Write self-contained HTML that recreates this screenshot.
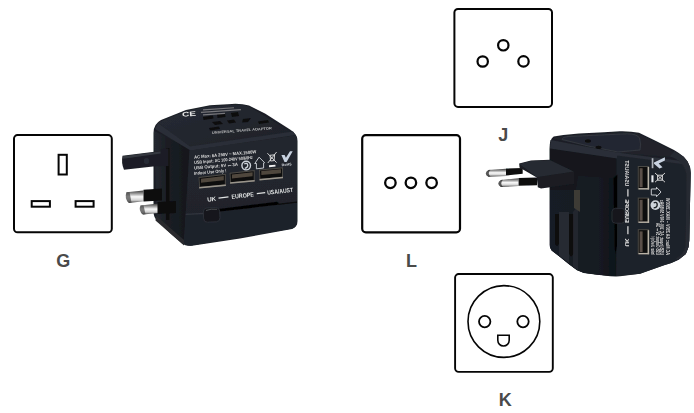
<!DOCTYPE html>
<html><head><meta charset="utf-8">
<style>
html,body{margin:0;padding:0;background:#fff;}
body{width:694px;height:413px;overflow:hidden;font-family:"Liberation Sans",sans-serif;}
svg{display:block}
text{font-family:"Liberation Sans",sans-serif;font-weight:bold;}
</style></head><body>
<svg width="694" height="413" viewBox="0 0 694 413">
<defs>
<linearGradient id="metalH" x1="0" y1="0" x2="0" y2="1">
<stop offset="0" stop-color="#3a3a3a"/><stop offset="0.25" stop-color="#9a9a9a"/><stop offset="0.5" stop-color="#fafafa"/><stop offset="0.78" stop-color="#d0d0d0"/><stop offset="1" stop-color="#3a3a3a"/>
</linearGradient>
<linearGradient id="topL" x1="0" y1="0" x2="1" y2="1"><stop offset="0" stop-color="#272b33"/><stop offset="1" stop-color="#1d2128"/></linearGradient>
<linearGradient id="frontL" x1="0" y1="0" x2="0" y2="1"><stop offset="0" stop-color="#23272f"/><stop offset="1" stop-color="#1e222a"/></linearGradient>
<filter id="soft" x="-5%" y="-5%" width="110%" height="110%"><feGaussianBlur stdDeviation="0.35"/></filter>
<linearGradient id="leftL" x1="0" y1="0" x2="1" y2="0"><stop offset="0" stop-color="#262a31"/><stop offset="0.35" stop-color="#1b1e24"/><stop offset="1" stop-color="#14171c"/></linearGradient>
<linearGradient id="rlf" x1="0" y1="0" x2="1" y2="0"><stop offset="0" stop-color="#181d25"/><stop offset="0.7" stop-color="#161b23"/><stop offset="1" stop-color="#0f1319"/></linearGradient>
</defs>
<rect width="694" height="413" fill="#fff"/>

<!-- SOCKET G -->
<g fill="#fff" stroke="#050505" stroke-width="2">
<rect x="14" y="135.05" width="97.8" height="97.25" rx="3.6"/>
<rect x="58.6" y="154.8" width="8.2" height="19.7" stroke-width="2"/>
<rect x="31.7" y="201.1" width="18.2" height="5.6" stroke-width="2"/>
<rect x="75.6" y="201.1" width="18" height="5.6" stroke-width="2"/>
</g>
<text x="63.2" y="266.9" font-size="18" text-anchor="middle" fill="#4a4a4a">G</text>

<!-- SOCKET J -->
<g fill="#fff" stroke="#050505" stroke-width="2">
<rect x="454.4" y="9" width="97.6" height="97.9" rx="3.6"/>
<circle cx="503.3" cy="45.3" r="5.2" stroke-width="2.2"/>
<circle cx="482.7" cy="61.5" r="5.2" stroke-width="2.2"/>
<circle cx="523.5" cy="61.4" r="5.2" stroke-width="2.2"/>
</g>
<text x="503.2" y="141.3" font-size="18" text-anchor="middle" fill="#4a4a4a">J</text>

<!-- SOCKET L -->
<g fill="#fff" stroke="#050505" stroke-width="2">
<rect x="362.2" y="135.2" width="97.8" height="97.2" rx="3.6" stroke-width="2.2"/>
<circle cx="390.4" cy="182.8" r="5.25" stroke-width="2.3"/>
<circle cx="410.9" cy="182.8" r="5.25" stroke-width="2.3"/>
<circle cx="431.6" cy="182.8" r="5.25" stroke-width="2.3"/>
</g>
<text x="411.4" y="266.9" font-size="18" text-anchor="middle" fill="#4a4a4a">L</text>

<!-- SOCKET K -->
<g fill="#fff" stroke="#050505" stroke-width="2">
<rect x="455.1" y="274" width="97.7" height="97.9" rx="3.6" stroke-width="1.9"/>
<circle cx="503.9" cy="321.5" r="35.9" stroke-width="1.6"/>
<circle cx="484.7" cy="321.6" r="5.7" stroke-width="1.8"/>
<circle cx="523" cy="321.6" r="5.7" stroke-width="1.8"/>
<path d="M497.8 335.3 H509.2 V340.3 A5.7 5.7 0 0 1 497.8 340.3 Z" stroke-width="1.6"/>
</g>
<text x="505.2" y="406" font-size="18" text-anchor="middle" fill="#4a4a4a">K</text>

<!-- LEFT ADAPTER -->
<g id="adL" filter="url(#soft)">
<!-- body silhouette -->
<path d="M153.500 133 Q153.500 124 161 120 L186 110 L210 105.300 L232 103.900 Q242 103.500 249 105.500 L265 113.500 L290 129.500 Q297.500 134 297.500 141 L297.500 221 Q297.500 227 292 229 L240 238.500 L192 245.800 Q185.500 246.300 181.500 243 L170 233 L157 220 Q153.500 217 153.500 212 Z" fill="#1b1f26"/>
<!-- left face -->
<path d="M154 131 L189.500 149 L184 244.500 L157 219 Z" fill="url(#leftL)"/>
<rect x="166" y="148" width="3.500" height="72" fill="#0c0c0d"/>
<path d="M156 215.500 L184 240 L184 245.500 L155.500 220.500Z" fill="#2a2b2e"/>
<!-- earth pin -->
<path d="M122.500 155.800 L160.500 151 L161 148.500 L168.500 148.500 L168.500 166 L153 166.500 L124 169.800 Q121 163 122.500 155.800Z" fill="#1c1f25"/>
<path d="M123 156.300 L160.500 151.500 L160.500 153.500 L123 158.800Z" fill="#353941"/>
<ellipse cx="146.500" cy="161" rx="2.600" ry="3" fill="#282c34"/>
<!-- line pin 1 -->
<path d="M126.500 192.300 L143.500 190.500 L143.500 201.300 L129 203 Q124 199 126.500 192.300Z" fill="url(#metalH)"/>
<path d="M126.500 192.300 L129.500 192 L131.500 202.700 L129 203 Q124 199 126.500 192.300Z" fill="#444" opacity="0.700"/>
<path d="M143.500 189.700 L162 188.500 L162 200.500 L143.500 201.500Z" fill="#0d0d0f"/>
<!-- line pin 2 -->
<path d="M140.500 205.600 L158.500 203.600 L158.500 213 L143 214.500 Q138 211 140.500 205.600Z" fill="url(#metalH)"/>
<path d="M140.500 205.600 L143.500 205.300 L145.500 214.300 L143 214.500 Q138 211 140.500 205.600Z" fill="#444" opacity="0.700"/>
<path d="M157.500 202 L176 201 L176 213 L157.500 214Z" fill="#0d0d0f"/>
<!-- top face -->
<path d="M158 122.500 L186 111 L210 106.300 L236 104.800 Q243 104.800 249 106.800 L292 132.500 L190 148 Z" fill="url(#topL)"/>
<!-- bevel highlight -->
<path d="M158 123 L190 146.500 L293 131.500 L295.500 135 L190.500 150.500 L155 129 Z" fill="#2b2f37"/>
<!-- top details -->
<g fill="#0d0d0e">
<path d="M203 117 l10 -1.500 l0.500 3 l-10 1.500z"/><path d="M217 114 l8 -1 l0.500 4 l-8 1z"/><path d="M231 113 l7 -1 l1 4 l-7 1z"/>
<path d="M212 122 l8 -1 l3 3 l-8 1z"/><path d="M227 120.500 l7 -1 l2 3 l-7 1z"/><path d="M243 119 l8 -1 l-3 4 l-6 0.500z"/>
<path d="M209 128 l10 -1.500 l1 2.500 l-10 1.500z"/><path d="M258 121.500 l10 -1.500 l1 2.500 l-10 1.500z"/>
</g>
<g fill="#e8e8e8" font-size="5.500" font-weight="bold">
<text x="182.300" y="116.800" font-size="6.500" textLength="14" lengthAdjust="spacingAndGlyphs" transform="rotate(-5 182 116)">CE</text>
</g>
<g fill="#77777b">
<rect x="203" y="109.300" width="31" height="1.200" transform="rotate(-4 203 109)"/>
<rect x="201" y="111.800" width="40" height="1.200" transform="rotate(-4 201 112)"/>
<rect x="203" y="114.300" width="22" height="1.200" transform="rotate(-4 203 115)"/>
</g>
<text x="212" y="134" font-size="3.600" fill="#bdbdbd" transform="rotate(-4.500 212 134)" textLength="60" lengthAdjust="spacingAndGlyphs">UNIVERSAL TRAVEL ADAPTOR</text>
<!-- front face -->
<path d="M190.500 150.500 L295.500 135.500 Q297 136 297 141 L297 221 Q297 226.500 292 228.500 L192 245.300 Q186 245.800 184 243 L189.500 150.500 Z" fill="url(#frontL)"/>
<!-- lower part lighter -->
<path d="M185.700 214.300 L204 213.300 L219 212.300 L297 202.300 L297 221 Q297 226.500 292 228.500 L192 245.300 Q186 245.800 184 243 Z" fill="#1f242c"/>
<path d="M185.700 213.800 L204 212.800 L204 214 L185.700 215Z" fill="#31353d"/>
<path d="M278 203.800 L297 201.500 L297 202.800 L278 205Z" fill="#0a0a0b"/>
<!-- front text -->
<g fill="#dcdcdc" font-size="4.500" font-weight="bold" style="font-weight:bold">
<text x="194.200" y="158.700" transform="rotate(-5 194.200 158.700)" textLength="62.500" lengthAdjust="spacingAndGlyphs" style="font-weight:bold">AC Max: 6A 250V ~  MAX.1500W</text>
<text x="194.200" y="164.100" transform="rotate(-5 194.200 164.100)" textLength="59" lengthAdjust="spacingAndGlyphs" style="font-weight:bold">USB Input: AC 100-240V 50/60Hz</text>
<text x="194.200" y="169.500" transform="rotate(-5 194.200 169.500)" textLength="44" lengthAdjust="spacingAndGlyphs" style="font-weight:bold">USB Output: 5V ⎓ 3A</text>
<text x="194.200" y="174.900" transform="rotate(-5 194.200 174.900)" textLength="32.500" lengthAdjust="spacingAndGlyphs" style="font-weight:bold">Indoor Use Only !</text>
</g>
<!-- icons -->
<circle cx="246.200" cy="165.600" r="4.300" fill="none" stroke="#cfd5dc" stroke-width="1.400"/>
<path d="M244.300 163.800 q3 -1.500 3.500 1.500 q0 2.500 -3 3" fill="none" stroke="#cfd5dc" stroke-width="1.300"/>
<path d="M254.700 163.600 L259.100 157.200 L264.600 162.700 L263.600 162.900 L263.600 168 L256.400 168.800 L256.400 163.400 Z" fill="none" stroke="#d4d8de" stroke-width="0.900"/>
<g stroke="#e0e0e0" stroke-width="0.900" fill="none">
<path d="M267.400 153.200 L276.600 162.600 M276.600 152 L267.800 163"/>
<path d="M270 155.300 L274.600 154.800 L274.100 160.600 L270.600 161Z"/>
</g>
<rect x="269" y="165" width="6.500" height="1.900" fill="#f0f0f0" transform="rotate(-6 272 166)"/>
<path d="M281.400 155 L284.600 155 L285.900 157.800 L290 151.200 L292.700 151.200 L286.600 162.100 L284.500 162.100Z" fill="#c8d2e0"/>
<text x="281.800" y="166.300" font-size="3.600" fill="#d0d4da" textLength="10" lengthAdjust="spacingAndGlyphs" transform="rotate(-6 282 166)">RoHS</text>
<!-- usb ports -->
<g>
<path d="M198.500 177 L225.900 173.800 L225.900 185.700 L199.200 188.300Z" fill="#4a4844"/>
<path d="M199.500 178 L224.900 175 L224.900 184.300 L200 186.800Z" fill="#0b0b0c"/>
<path d="M201 178.700 L223.800 176 L223.800 180.300 L201 182.800Z" fill="#50463d"/>
<path d="M199.200 187 L225.900 184.400 L225.900 185.900 L199.200 188.500Z" fill="#9a958c"/>
<path d="M229.600 172.700 L254.700 170 L254.700 181.400 L230.100 183.600Z" fill="#4a4844"/>
<path d="M230.600 173.700 L253.700 171.200 L253.700 180 L231 182.200Z" fill="#0b0b0c"/>
<path d="M232 174.400 L252.600 172.200 L252.600 176.300 L232 178.400Z" fill="#50463d"/>
<path d="M230.100 182.300 L254.700 180.100 L254.700 181.600 L230.100 183.800Z" fill="#9a958c"/>
<path d="M259 169.400 L283 167.200 L283 178.100 L259.500 180.300Z" fill="#4a4844"/>
<path d="M260 170.400 L282 168.400 L282 176.700 L260.400 178.800Z" fill="#0b0b0c"/>
<path d="M261.300 171.100 L281 169.300 L281 173.200 L261.300 175Z" fill="#50463d"/>
<path d="M259.500 179 L283 176.800 L283 178.300 L259.500 180.500Z" fill="#9a958c"/>
</g>
<!-- labels -->
<g fill="#e2e2e2" font-size="6.200" transform="rotate(-6.600 250 196)">
<text x="207" y="196.800">UK</text>
<rect x="218.500" y="193.800" width="10" height="1.200"/>
<text x="231.500" y="196.800" textLength="22.500" lengthAdjust="spacingAndGlyphs">EUROPE</text>
<rect x="257" y="193.800" width="8.500" height="1.200"/>
<text x="267.500" y="196.800" textLength="26" lengthAdjust="spacingAndGlyphs">USA/AUST</text>
</g>
<!-- slot -->
<path d="M216 209.200 L277 201.800 Q279.500 202.500 278.500 204.800 L216 212Z" fill="#050506"/>
<!-- knob -->
<rect x="203.500" y="207.800" width="16.300" height="14.200" rx="3.800" fill="#14171b" stroke="#2c3038" stroke-width="0.900" transform="rotate(-3 211 215)"/>
<path d="M206 210.500 Q211 208.500 217 209.300" stroke="#4a4b50" stroke-width="1" fill="none"/>
</g>

<!-- RIGHT ADAPTER -->
<g id="adR" filter="url(#soft)">
<!-- pins -->
<path d="M488.500 169.900 L506 168.800 L506 176 L488.500 176.700 Q483 173.400 488.500 169.900Z" fill="url(#metalH)"/>
<path d="M488.500 169.900 L490.500 169.800 Q487 173.400 490.500 176.600 L488.500 176.700 Q483 173.400 488.500 169.900Z" fill="#333" opacity="0.800"/>
<path d="M506 168.600 L522.700 168 L522.700 173.800 L506 175.600Z" fill="#0d0e11"/>
<path d="M501 180 L518.600 178.200 L518.600 186 L501 187 Q495.500 183.600 501 180Z" fill="url(#metalH)"/>
<path d="M501 180 L503 179.800 Q499.500 183.600 503 186.900 L501 187 Q495.500 183.600 501 180Z" fill="#333" opacity="0.800"/>
<path d="M518.600 178 L537 177.500 L537 185.300 L518.600 185.800Z" fill="#0d0e11"/>
<!-- body silhouette -->
<path d="M549.500 149 Q549.500 139 553.700 136.600 L563.400 135 L579 133.400 L604 132.300 L620 131.200 Q631 131 639 132.800 L656 141 L674 150 L678.800 152.900 L683.700 156.800 L687.600 161.600 L690 167 L690.600 173 L689.300 240 L688.500 247 L685.800 254 L678.500 259.700 L671.300 263 L664 265.200 L640 273.700 L620 276.300 Q613 276.800 604 275.500 L595 274.500 L583.800 273 L577 270.200 L569.200 264.400 L559.500 256.600 L551.800 250.800 Q549.600 248.500 549.600 245 Z" fill="#1b1f26"/>
<!-- left face -->
<path d="M550 142 L616.500 154 L616 276 L604 275.300 L595 274.300 L583.800 272.800 L577 270 L569.200 264.200 L559.500 256.400 L551.800 250.600 L550 247 Z" fill="#12161c"/>
<path d="M550 190 L576 190 L578 176 L616 178 L616 276 L604 275.300 L595 274.300 L583.800 272.800 L577 270 L569.200 264.200 L559.500 256.400 L551.800 250.600 L550 247Z" fill="url(#rlf)"/>
<path d="M559 212 L569 212 L569 263 L559 255.500Z" fill="#262a31"/>
<path d="M573 212 L578 205 L578 270 L573 267Z" fill="#23272e"/>
<path d="M555 214 L558.800 214 L558.800 244 Q557 248 555 244Z" fill="#0a0b0d"/>
<path d="M569.200 214 L573.100 214 L573.100 254 Q571.200 259 569.200 254Z" fill="#0a0b0d"/>
<path d="M574 190 L580 190 L580 212 L574 208Z" fill="#3c3a36"/>
<!-- top face -->
<path d="M553 138.500 L563.400 136 L579 134.400 L604 133.300 L620 132.200 Q631 132 638 133.800 L656 142 L684 158 L617 153 Z" fill="#20242b"/>
<path d="M562 139.500 Q562 137 568 136.500 L627 133.800 Q637 133.800 639.500 138 Q641.500 144 640 150 L618 152 Q590 147 562 139.500Z" fill="#242830" stroke="#343841" stroke-width="0.900"/>
<ellipse cx="588" cy="141" rx="3" ry="1.700" fill="#0c0c0d"/>
<ellipse cx="598.500" cy="147.500" rx="3" ry="1.700" fill="#0c0c0d"/>
<!-- bevels -->
<path d="M550.500 140 L617 152.500 L685 161.500 L688 165 L617 158.500 L550 148.500Z" fill="#2b2f37"/>
<!-- right face -->
<path d="M617 155.500 L686 164.500 L690 167 L690.600 173 L689.300 240 L688.500 247 L685.800 254 L678.500 259.700 L671.300 263 L664 265.200 L640 273.700 L617 276 Z" fill="#1f232a"/>
<path d="M670 156.500 Q684 161 686.500 175 L685.500 246 Q684 254 676 258.500 L678.500 259.700 L685.800 254 L688.500 247 L689.300 240 L690.600 173 L690 167 L687.600 161.600 L683.700 156.800 L674 151Z" fill="#252930"/>
<!-- plug slab -->
<path d="M519.200 163.600 L531 160.500 L550 159.800 L574 171.500 L574 184 L541 188.500 L537.800 187.300 L536.800 177.500 L519.500 167.500 Z" fill="#1a1d23"/>
<path d="M519.500 164 L531 161 L550 160.200 L573.500 171.500 L537 177 Z" fill="#282c33"/>
<!-- slot + knob -->
<path d="M613.500 178 L617.300 174.500 L617 246 L615.500 254 L614.500 246Z" fill="#050506"/>
<rect x="612" y="208.400" width="12.800" height="14.800" rx="3.400" fill="#14171b" stroke="#2c3038" stroke-width="0.900"/>
<!-- usb ports -->
<g>
<rect x="637.800" y="166" width="11.200" height="23.4" fill="#4a4844"/>
<rect x="638.800" y="167" width="9" height="21.4" fill="#0b0b0c"/>
<rect x="639.600" y="168.2" width="3" height="19.0" fill="#5a5048"/>
<rect x="647.600" y="167" width="1.500" height="22.4" fill="#b8b2a6"/>
<rect x="638.500" y="188.1" width="10.600" height="1.400" fill="#b8b2a6"/>
<rect x="637.800" y="197.6" width="11.200" height="25.2" fill="#4a4844"/>
<rect x="638.800" y="198.6" width="9" height="23.2" fill="#0b0b0c"/>
<rect x="639.600" y="199.79999999999998" width="3" height="20.8" fill="#5a5048"/>
<rect x="647.600" y="198.6" width="1.500" height="24.2" fill="#b8b2a6"/>
<rect x="638.500" y="221.5" width="10.600" height="1.400" fill="#b8b2a6"/>
<rect x="637.800" y="229.2" width="11.200" height="25.0" fill="#4a4844"/>
<rect x="638.800" y="230.2" width="9" height="23.0" fill="#0b0b0c"/>
<rect x="639.600" y="231.39999999999998" width="3" height="20.6" fill="#5a5048"/>
<rect x="647.600" y="230.2" width="1.500" height="24.0" fill="#b8b2a6"/>
<rect x="638.500" y="252.9" width="10.600" height="1.400" fill="#b8b2a6"/>
</g>
<!-- labels (mirrored, vertical) -->
<g fill="#e2e2e2" font-size="6.200" transform="translate(624.800 0) scale(-1 1) rotate(-90)">
<text x="-246.500" y="0" textLength="8">UK</text>
<text x="-222.700" y="0" textLength="23.300" lengthAdjust="spacingAndGlyphs">EUROPE</text>
<text x="-186.300" y="0" textLength="26" lengthAdjust="spacingAndGlyphs">USA/AUST</text>
</g>
<rect x="627.300" y="189.200" width="1.200" height="7.300" fill="#e2e2e2"/>
<rect x="627.300" y="226.200" width="1.200" height="8" fill="#e2e2e2"/>
<!-- icons -->
<path d="M664.900 157.300 L664.900 160.600 L658.700 163.600 L662.500 167.200 L659.500 168.400 L654 163.700 L654 162.400Z" fill="#c8d2e0"/>
<rect x="651.700" y="158.200" width="1.700" height="10" fill="#aeb4bc"/>
<rect x="651.400" y="175.300" width="2.100" height="7" fill="#e8ecf0"/>
<g stroke="#e0e0e0" stroke-width="0.900" fill="none">
<path d="M655 173 L665 182.200 M665 173 L655 182.200"/>
<rect x="657.600" y="175.200" width="4.800" height="5"/>
</g>
<path d="M651.300 189 L656.500 189 L656.500 187.300 L661 192 L656.500 196.700 L656.500 195 L651.300 195 Z" fill="none" stroke="#d4d8de" stroke-width="0.900"/>
<circle cx="655.400" cy="205.100" r="4.900" fill="#cdd3da"/>
<path d="M653.700 202.800 q3.500 -1.500 3.500 2 q0 3 -3.500 3" fill="none" stroke="#1c2026" stroke-width="1.400"/>
<!-- text lines mirrored vertical -->
<g fill="#d6d6d6" font-size="4.800" transform="translate(0 0) scale(-1 1) rotate(-90)" style="font-weight:bold">
<text x="-255" y="-665.500" textLength="57" lengthAdjust="spacingAndGlyphs" style="font-weight:bold">AC Max: 6A 250V ~  MAX.1500W</text>
<text x="-255" y="-660.400" textLength="55" lengthAdjust="spacingAndGlyphs" style="font-weight:bold">USB Input: AC 100-240V 50/60Hz</text>
<text x="-255" y="-655.500" textLength="32" lengthAdjust="spacingAndGlyphs" style="font-weight:bold">USB Output: 5V ⎓ 3A</text>
<text x="-255" y="-650.600" textLength="19" lengthAdjust="spacingAndGlyphs" style="font-weight:bold">Indoor Use Only !</text>
</g>
</g>
</svg>
</body></html>
